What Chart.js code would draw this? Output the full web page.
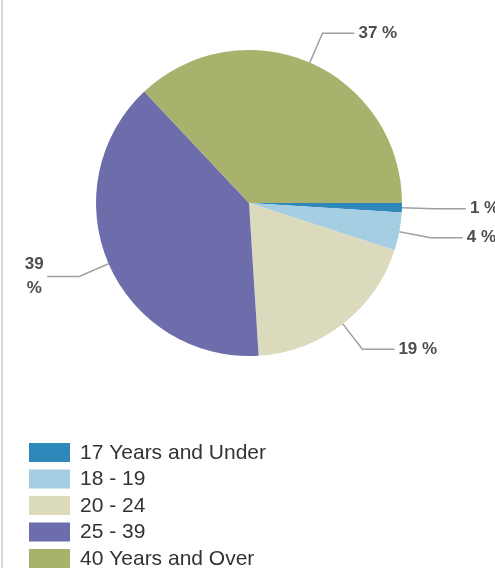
<!DOCTYPE html>
<html>
<head>
<meta charset="utf-8">
<script src="https://cdn.jsdelivr.net/npm/chart.js@4"></script>
<style>
  html, body { margin: 0; padding: 0; background: #fff; }
  #wrap { position: relative; width: 495px; height: 568px; }
  #edge { position: absolute; left: 1px; top: 0; width: 2px; height: 568px; background: #d6d6d6; }
</style>
</head>
<body>
<div id="wrap">
  <canvas id="ageChart" width="495" height="568"></canvas>
  <div id="edge"></div>
</div>
<script>
const categories = ['17 Years and Under', '18 - 19', '20 - 24', '25 - 39', '40 Years and Over'];
const percents = [1, 4, 19, 39, 37];
const colors = ['#2f88ba', '#a6cee2', '#dcdabd', '#6e6dac', '#a9b26d'];

// leader lines + "nn %" labels outside the pie
const leaderLabels = {
  id: 'leaderLabels',
  afterDatasetsDraw(chart) {
    const ctx = chart.ctx;
    const meta = chart.getDatasetMeta(0);
    ctx.save();
    ctx.strokeStyle = '#a0a0a0';
    ctx.lineWidth = 1.5;
    ctx.fillStyle = '#4d4d4d';
    ctx.font = 'bold 17px "Liberation Sans", Arial, sans-serif';
    ctx.textBaseline = 'middle';
    meta.data.forEach((arc, i) => {
      const p = arc.getProps(['x', 'y', 'startAngle', 'endAngle', 'outerRadius'], true);
      const mid = (p.startAngle + p.endAngle) / 2;
      const c = Math.cos(mid), s = Math.sin(mid);
      const x0 = p.x + p.outerRadius * c, y0 = p.y + p.outerRadius * s;
      const x1 = p.x + (p.outerRadius + 32) * c, y1 = p.y + (p.outerRadius + 32) * s;
      const right = c >= 0;
      const x2 = right ? x1 + 32 : x1 - 32;
      ctx.beginPath();
      ctx.moveTo(x0, y0);
      ctx.lineTo(x1, y1);
      ctx.lineTo(x2, y1);
      ctx.stroke();
      const txt = percents[i] + ' %';
      if (right) {
        ctx.textAlign = 'left';
        ctx.fillText(txt, x2 + 4, y1);
      } else {
        ctx.textAlign = 'center';
        ctx.fillText(String(percents[i]), x2 - 13, y1 - 12);
        ctx.fillText('%', x2 - 13, y1 + 12);
      }
    });
    ctx.restore();
  }
};

// one legend entry per row under the pie
const stackedLegend = {
  id: 'stackedLegend',
  afterDraw(chart) {
    const ctx = chart.ctx;
    ctx.save();
    ctx.font = '21px "Liberation Sans", Arial, sans-serif';
    ctx.textBaseline = 'middle';
    ctx.textAlign = 'left';
    categories.forEach((name, i) => {
      const y = 452 + i * 26.5;
      ctx.fillStyle = colors[i];
      ctx.fillRect(29, y - 9, 41, 19);
      ctx.fillStyle = '#333';
      ctx.fillText(name, 80, y + 1);
    });
    ctx.restore();
  }
};

new Chart(document.getElementById('ageChart'), {
  type: 'pie',
  data: {
    labels: categories,
    datasets: [{
      data: percents,
      backgroundColor: colors,
      borderWidth: 0
    }]
  },
  options: {
    responsive: false,
    animation: false,
    rotation: 90,
    layout: { padding: { top: 50, bottom: 212, left: 3, right: 0 } },
    plugins: {
      legend: { display: false },
      tooltip: { enabled: false }
    }
  },
  plugins: [leaderLabels, stackedLegend]
});
</script>
</body>
</html>
